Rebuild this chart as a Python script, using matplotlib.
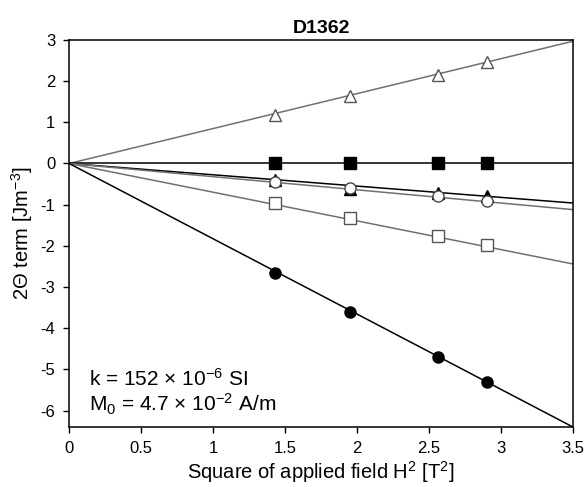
import numpy as np
import matplotlib.pyplot as plt

plt.rcParams['font.family'] = ['Liberation Sans', 'DejaVu Sans']
plt.rcParams['mathtext.fontset'] = 'custom'
plt.rcParams['mathtext.rm'] = 'Liberation Sans'
plt.rcParams['mathtext.it'] = 'Liberation Sans:italic'
plt.rcParams['axes.unicode_minus'] = False

# field values (H^2, T^2)
h2 = [1.43, 1.95, 2.56, 2.90]

# measured 2-theta terms for each specimen orientation
open_tri = [1.17, 1.63, 2.16, 2.46]
filled_sq = [0.0, 0.0, 0.0, 0.0]
filled_tri = [-0.40, -0.62, -0.71, -0.80]
open_circ = [-0.46, -0.60, -0.80, -0.90]
open_sq = [-0.96, -1.33, -1.75, -1.98]
filled_circ = [-2.65, -3.60, -4.70, -5.30]

# fitted line values at H^2 = 3.5 (lines pass through origin)
fit_x = [0, 3.5]
fit_end = [2.97, 0.0, -0.96, -1.12, -2.44, -6.40]

series = [
    (open_tri, '^', 'white', '#555555', '#707070', fit_end[0], 3),
    (filled_sq, 's', 'black', 'black', 'black', fit_end[1], 3),
    (filled_tri, '^', 'black', 'black', 'black', fit_end[2], 3),
    (open_circ, 'o', 'white', '#444444', '#707070', fit_end[3], 4),
    (open_sq, 's', 'white', '#555555', '#707070', fit_end[4], 3),
    (filled_circ, 'o', 'black', 'black', 'black', fit_end[5], 3),
]

fig = plt.figure(figsize=(5.86, 4.87), dpi=100)
ax = fig.add_axes([0.118, 0.123, 0.860, 0.795])

for vals, mk, fc, ec, lc, yend, z in series:
    ax.plot(fit_x, [0, yend], color=lc, lw=1.1, zorder=2)
    ax.plot(h2, vals, linestyle='none', marker=mk, markersize=8,
            markerfacecolor=fc, markeredgecolor=ec, markeredgewidth=1.0, zorder=z)

ax.set_xlim(0, 3.5)
ax.set_ylim(-6.4, 3)
ax.set_xticks(np.arange(0, 3.51, 0.5))
ax.set_xticklabels(['0', '0.5', '1', '1.5', '2', '2.5', '3', '3.5'])
ax.set_yticks(range(-6, 4))
ax.tick_params(direction='out', length=4, width=1, labelsize=12, top=False, right=False)
ax.tick_params(axis='x', pad=6)
ax.tick_params(axis='y', pad=6)
for s in ax.spines.values():
    s.set_linewidth(1.1)

ax.set_title('D1362', fontsize=14, fontweight='bold', pad=5)
ax.set_xlabel('Square of applied field H$^2$ [T$^2$]', fontsize=14.5, labelpad=2)
ax.set_ylabel('2Θ term [Jm$^{-3}$]', fontsize=14.5, labelpad=4)

ax.text(0.14, -5.4, 'k = 152 × 10$^{-6}$ SI', fontsize=15)
ax.text(0.14, -6.03, 'M$_0$ = 4.7 × 10$^{-2}$ A/m', fontsize=15)

fig.savefig('out.png', dpi=100)
